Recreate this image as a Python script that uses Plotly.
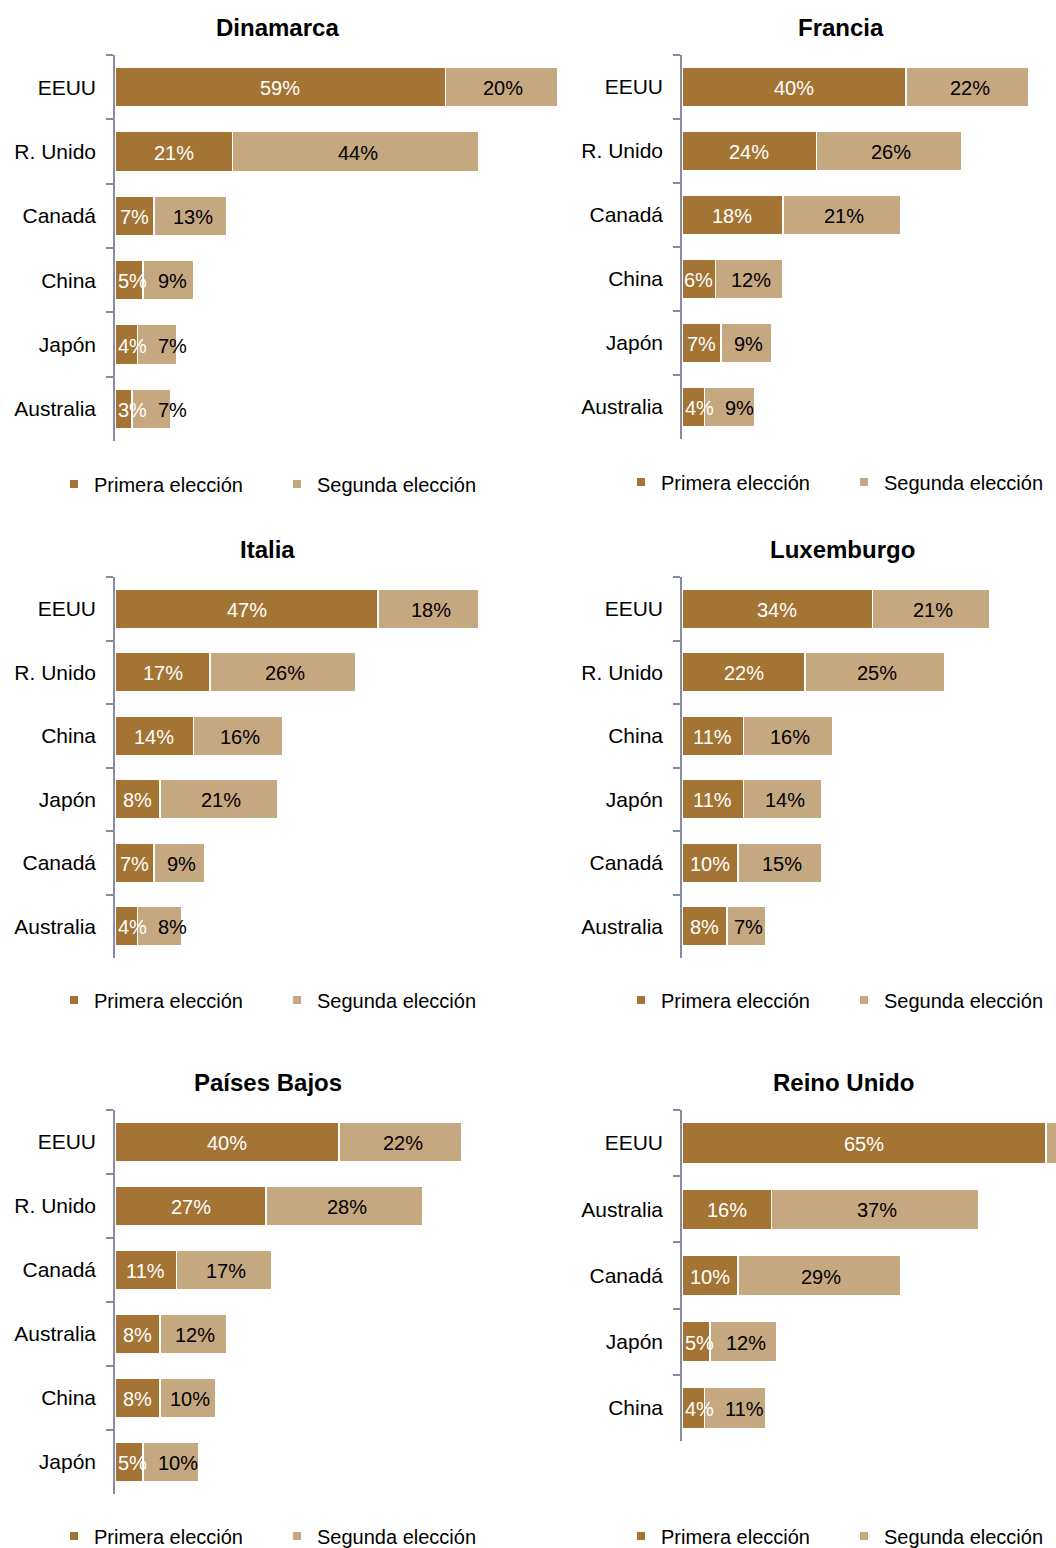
import plotly.graph_objects as go

# Datos por país (porcentaje de primera y segunda elección)
paises = ["Dinamarca", "Francia", "Italia", "Luxemburgo", "Países Bajos", "Reino Unido"]

destinos_dinamarca = ["EEUU", "R. Unido", "Canadá", "China", "Japón", "Australia"]
primera_dinamarca = [59, 21, 7, 5, 4, 3]
segunda_dinamarca = [20, 44, 13, 9, 7, 7]

destinos_francia = ["EEUU", "R. Unido", "Canadá", "China", "Japón", "Australia"]
primera_francia = [40, 24, 18, 6, 7, 4]
segunda_francia = [22, 26, 21, 12, 9, 9]

destinos_italia = ["EEUU", "R. Unido", "China", "Japón", "Canadá", "Australia"]
primera_italia = [47, 17, 14, 8, 7, 4]
segunda_italia = [18, 26, 16, 21, 9, 8]

destinos_luxemburgo = ["EEUU", "R. Unido", "China", "Japón", "Canadá", "Australia"]
primera_luxemburgo = [34, 22, 11, 11, 10, 8]
segunda_luxemburgo = [21, 25, 16, 14, 15, 7]

destinos_paises_bajos = ["EEUU", "R. Unido", "Canadá", "Australia", "China", "Japón"]
primera_paises_bajos = [40, 27, 11, 8, 8, 5]
segunda_paises_bajos = [22, 28, 17, 12, 10, 10]

destinos_reino_unido = ["EEUU", "Australia", "Canadá", "Japón", "China"]
primera_reino_unido = [65, 16, 10, 5, 4]
segunda_reino_unido = [8, 37, 29, 12, 11]

destinos = [destinos_dinamarca, destinos_francia, destinos_italia,
            destinos_luxemburgo, destinos_paises_bajos, destinos_reino_unido]
primera = [primera_dinamarca, primera_francia, primera_italia,
           primera_luxemburgo, primera_paises_bajos, primera_reino_unido]
segunda = [segunda_dinamarca, segunda_francia, segunda_italia,
           segunda_luxemburgo, segunda_paises_bajos, segunda_reino_unido]

W, H = 1056, 1548
PX = 5.6  # pixeles por punto porcentual
OSCURO = "#A47434"
CLARO = "#C5A780"
EJE = "#8A8AA2"


def fx(px):
    return px / W


def fy(px):
    return 1 - px / H


def ancho_texto(v):
    # ancho aproximado de "NN%" a 20px
    return 11.1 * len(str(v)) + 17.8


# Posiciones de cada panel (pixeles)
x_ini = [115, 682, 115, 682, 115, 682]
x_fin = [560, 1056, 560, 1056, 560, 1056]
y_ini = [55, 55, 577, 577, 1110, 1110]
y_fin = [441, 439, 958, 958, 1494, 1441]
titulo_x = [277, 841, 267, 842, 268, 843]
titulo_y = [27, 27, 549, 549, 1082, 1082]
leyenda_y = [484, 482, 1000, 1000, 1536, 1536]
leyenda_x = [94, 661, 94, 661, 94, 661]

fig = go.Figure()
layout = {}
anotaciones = []

for i, pais in enumerate(paises):
    n = i + 1
    sfx = "" if n == 1 else str(n)
    xa, ya = "x" + sfx, "y" + sfx
    leg = "legend" + sfx
    p, s = primera[i], segunda[i]
    ancho = x_fin[i] - x_ini[i]
    xmax = ancho / PX

    for vals, nombre, color in [(p, "Primera elección", OSCURO), (s, "Segunda elección", CLARO)]:
        fig.add_trace(go.Bar(
            y=destinos[i], x=vals, orientation="h", name=nombre,
            marker=dict(color=color, line=dict(color="white", width=1.5)),
            width=0.62, showlegend=False, xaxis=xa, yaxis=ya, hoverinfo="skip",
        ))

    # etiquetas de datos
    for cat, a, b in zip(destinos[i], p, s):
        w1, w2 = ancho_texto(a), ancho_texto(b)
        desborda = a * PX < w1 + 4
        if desborda:
            anotaciones.append(dict(x=0, y=cat, xref=xa, yref=ya, text=f"{a}%",
                                    xanchor="left", xshift=1, yshift=-1, showarrow=False,
                                    font=dict(color="white", size=20)))
            izq = max(a + b / 2 - w2 / 2 / PX, (w1 + 12) / PX)
        else:
            anotaciones.append(dict(x=a / 2, y=cat, xref=xa, yref=ya, text=f"{a}%",
                                    xanchor="center", yshift=-1, showarrow=False,
                                    font=dict(color="white", size=20)))
            izq = a + b / 2 - w2 / 2 / PX
        if izq + w2 / PX < xmax:
            anotaciones.append(dict(x=izq, y=cat, xref=xa, yref=ya, text=f"{b}%",
                                    xanchor="left", yshift=-1, showarrow=False,
                                    font=dict(color="black", size=20)))

    # entradas de leyenda con cuadrado pequeño
    for nombre, color in [("Primera elección", OSCURO), ("Segunda elección", CLARO)]:
        fig.add_trace(go.Scatter(
            x=[None], y=[None], mode="markers", name=nombre,
            marker=dict(symbol="square", size=8, color=color),
            legend=leg, xaxis=xa, yaxis=ya,
        ))

    layout["xaxis" + sfx] = dict(
        domain=[fx(x_ini[i]), fx(x_fin[i])], range=[0, xmax],
        visible=False, anchor=ya, fixedrange=True,
    )
    ncat = len(destinos[i])
    layout["yaxis" + sfx] = dict(
        domain=[fy(y_fin[i]), fy(y_ini[i])], anchor=xa,
        type="category", categoryorder="array", categoryarray=destinos[i],
        range=[ncat - 0.5, -0.5], showline=True, linecolor=EJE, linewidth=1.5,
        ticks="outside", tickson="boundaries", ticklen=7, tickcolor=EJE,
        tickwidth=1.5, showgrid=False, ticklabelstandoff=13,
        tickfont=dict(size=21, color="black"), fixedrange=True,
    )
    layout[leg] = dict(
        orientation="h", x=fx(leyenda_x[i] - 40), xanchor="left",
        y=fy(leyenda_y[i]), yanchor="middle", traceorder="normal",
        font=dict(size=20, color="black"), bgcolor="rgba(0,0,0,0)",
        entrywidth=178, entrywidthmode="pixels", itemclick=False,
    )
    anotaciones.append(dict(
        text=f"<b>{pais}</b>", x=fx(titulo_x[i]), y=fy(titulo_y[i]),
        xref="paper", yref="paper", xanchor="center", yanchor="middle",
        showarrow=False, font=dict(size=24, color="black"),
    ))

fig.update_layout(
    width=W, height=H, barmode="stack",
    margin=dict(l=0, r=0, t=0, b=0, autoexpand=False),
    paper_bgcolor="white", plot_bgcolor="white",
    font=dict(family="Arial, Liberation Sans, sans-serif", color="black"),
    annotations=anotaciones,
    **layout,
)

# sin margen en el body para que la figura ocupe toda la ventana
fig.write_html("out.html", config={"displayModeBar": False},
               post_script="document.body.style.margin = '0';")
